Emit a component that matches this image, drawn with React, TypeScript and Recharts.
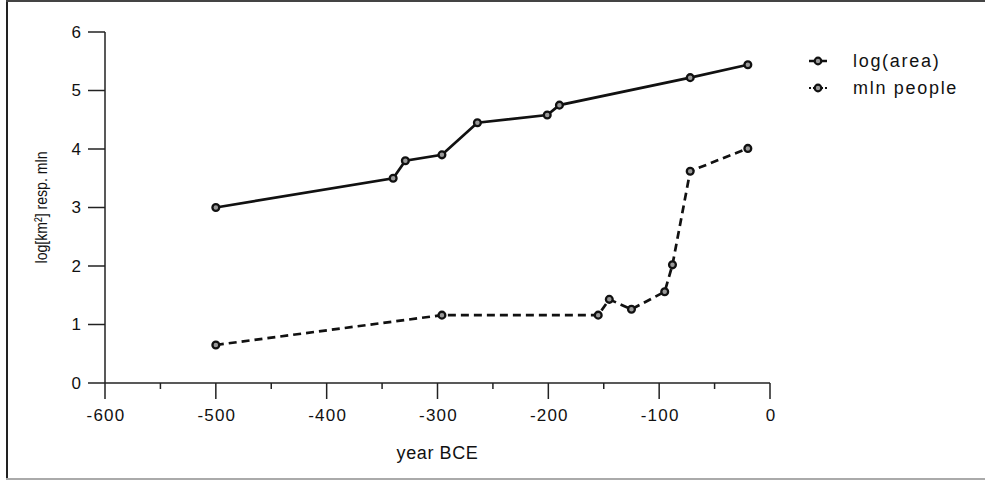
import React from 'react';
import { LineChart, Line, XAxis, YAxis, Legend, Label } from 'recharts';

const areaYears = [-500, -340, -329, -296, -264, -201, -190, -72, -20];
const areaValues = [3.0, 3.5, 3.8, 3.9, 4.45, 4.58, 4.75, 5.22, 5.44];
const peopleYears = [-500, -296, -155, -145, -125, -95, -88, -72, -20];
const peopleValues = [0.65, 1.16, 1.16, 1.43, 1.26, 1.56, 2.02, 3.62, 4.01];
const xTicks = [-600, -550, -500, -450, -400, -350, -300, -250, -200, -150, -100, -50, 0];
const yTicks = [0, 1, 2, 3, 4, 5, 6];
const seriesNames = ['log(area)', 'mln people'];

const areaData = areaYears.map((x, i) => ({ x, v: areaValues[i] }));
const peopleData = peopleYears.map((x, i) => ({ x, v: peopleValues[i] }));

const TICK_FONT = '"Liberation Sans Narrow", "Liberation Sans", sans-serif';
const LEG_FONT = '"Liberation Sans", Arial, sans-serif';

const Dot = (props: any) => {
  const { cx, cy } = props;
  if (cx == null || cy == null) return null;
  return <circle cx={cx} cy={cy} r={3.4} fill="#999" stroke="#111" strokeWidth={2.3} />;
};

const XTick = (props: any) => {
  const { x, y, payload } = props;
  const v = payload.value;
  const major = v % 100 === 0;
  return (
    <g>
      <line x1={x} x2={x} y1={y} y2={y + (major ? 16 : 6)} stroke="#222" strokeWidth={1.5} />
      {major && (
        <text x={x + 1} y={y + 32} textAnchor="middle" dominantBaseline="central"
          fontFamily={TICK_FONT} fontSize={17} letterSpacing={1.2} fill="#111">
          {v}
        </text>
      )}
    </g>
  );
};

const YTick = (props: any) => {
  const { x, y, payload } = props;
  return (
    <g>
      <line x1={x - 17} x2={x} y1={y} y2={y} stroke="#222" strokeWidth={1.5} />
      <text x={x - 24} y={y} textAnchor="end" dominantBaseline="central"
        fontFamily={TICK_FONT} fontSize={17} fill="#111">
        {payload.value}
      </text>
    </g>
  );
};

const LegendContent = () => (
  <svg width={185} height={60}>
    {seriesNames.map((name, i) => {
      const cy = 15 + i * 27;
      return (
        <g key={name}>
          <line x1={9} x2={27} y1={cy} y2={cy} stroke="#111"
            strokeWidth={i === 0 ? 2.5 : 2.2} strokeDasharray={i === 0 ? undefined : '2 2'} />
          <circle cx={18} cy={cy} r={3.3} fill="#999" stroke="#111" strokeWidth={2.2} />
          <text x={53} y={cy} dominantBaseline="central" fontFamily={LEG_FONT}
            fontSize={18} letterSpacing={1.7} fill="#111">{name}</text>
        </g>
      );
    })}
  </svg>
);

export default function App() {
  return (
    <div style={{ position: 'absolute', left: 0, top: 0, width: 985, height: 480, background: '#fff' }}>
      <div style={{ position: 'absolute', left: 6, top: 0, width: 2, height: 480, background: '#222' }} />
      <div style={{ position: 'absolute', left: 6, top: 0, width: 979, height: 1.5, background: '#444' }} />
      <div style={{ position: 'absolute', left: 6, top: 478, width: 979, height: 2, background: '#aaa' }} />
      <LineChart width={985} height={480} margin={{ top: 32, right: 215, bottom: 0, left: 0 }}>
        <XAxis
          dataKey="x"
          type="number"
          domain={[-600, 0]}
          ticks={xTicks}
          interval={0}
          allowDataOverflow
          height={97}
          tickSize={0}
          tickMargin={0}
          tickLine={false}
          tick={<XTick />}
          axisLine={{ stroke: '#222', strokeWidth: 1.5 }}
        >
          <Label content={(p: any) => {
            const vb = p.viewBox;
            return (
              <text x={vb.x + vb.width / 2} y={vb.y + 70} textAnchor="middle" dominantBaseline="central"
                fontFamily={TICK_FONT} fontSize={18} letterSpacing={0.6} fill="#111">year BCE</text>
            );
          }} />
        </XAxis>
        <YAxis
          type="number"
          domain={[0, 6]}
          ticks={yTicks}
          interval={0}
          width={105}
          tickSize={0}
          tickMargin={0}
          tickLine={false}
          tick={<YTick />}
          axisLine={{ stroke: '#222', strokeWidth: 1.5 }}
        >
          <Label content={(p: any) => {
            const vb = p.viewBox;
            const cy = vb.y + vb.height / 2;
            return (
              <text x={41} y={cy} textAnchor="middle" dominantBaseline="central"
                transform={`rotate(-90, 41, ${cy})`} textLength={112} lengthAdjust="spacingAndGlyphs"
                fontFamily={TICK_FONT} fontSize={17} fill="#111">log[km²] resp. mln</text>
            );
          }} />
        </YAxis>
        <Legend
          layout="horizontal"
          align="center"
          verticalAlign="middle"
          content={<LegendContent />}
          wrapperStyle={{ position: 'absolute', left: 800, top: 46, width: 185, height: 60 }}
        />
        <Line data={areaData} dataKey="v" name={seriesNames[0]} stroke="#111" strokeWidth={2.7}
          dot={<Dot />} activeDot={false} isAnimationActive={false} />
        <Line data={peopleData} dataKey="v" name={seriesNames[1]} stroke="#111" strokeWidth={2.7}
          strokeDasharray="8 5" dot={<Dot />} activeDot={false} isAnimationActive={false} />
      </LineChart>
    </div>
  );
}
